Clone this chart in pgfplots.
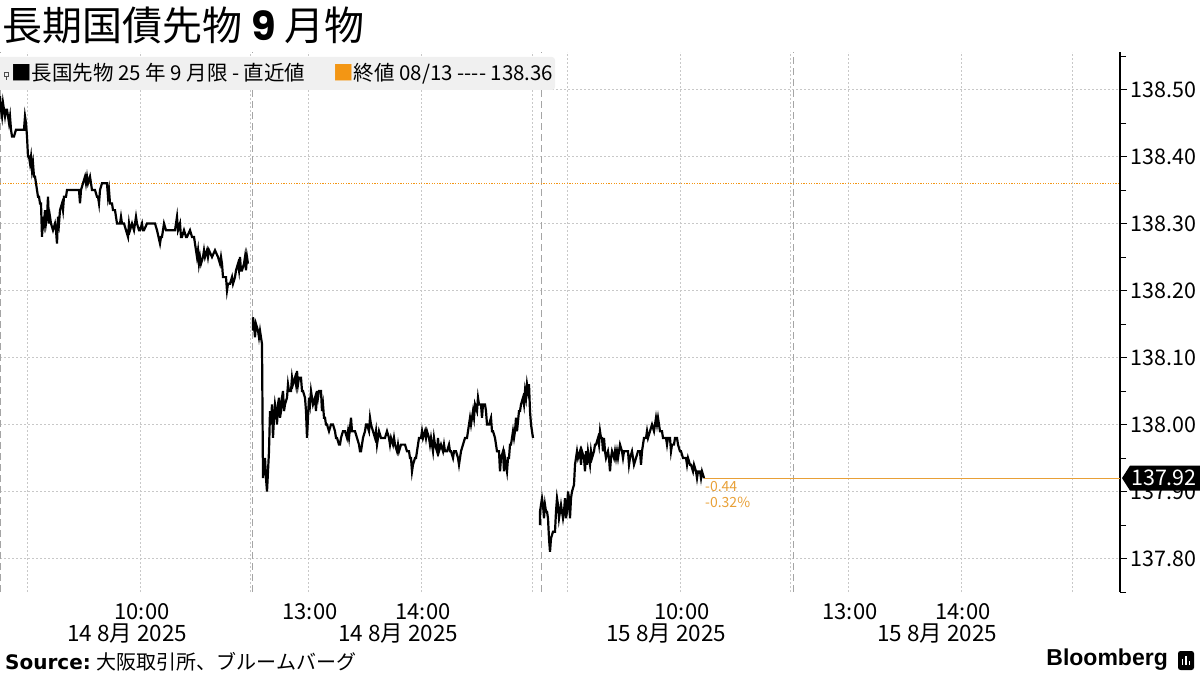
\documentclass[border=0pt]{standalone}
\usepackage{fontspec}
\setmainfont{Noto Sans CJK JP}
\newfontfamily\popfont{Poppins}
\newfontfamily\verd{DejaVu Sans}
\newfontfamily\bbgfont{Liberation Sans}
\usepackage{pgfplots}
\pgfplotsset{compat=1.18}
\definecolor{gridc}{RGB}{200,200,200}
\definecolor{breakc}{RGB}{165,165,165}
\definecolor{orangeA}{RGB}{243,150,20}
\definecolor{orangeL}{RGB}{232,160,55}
\definecolor{legbg}{RGB}{240,240,240}
\begin{document}
\begin{tikzpicture}
\begin{axis}[
  name=ax, anchor=south west, at={(0pt,0pt)},
  scale only axis, width=1120pt, height=540pt,
  xmin=0, xmax=1120, ymin=137.75, ymax=138.556,
  axis y line*=right, axis x line*=bottom,
  x axis line style={draw=none},
  y axis line style={line width=1.2pt, -},
  xtick={27,140,250,308,421,532,567,680,790,848,961,1072},
  xticklabels={,10:00,,13:00,14:00,,,10:00,,13:00,14:00,},
  xtick style={draw=none},
  xticklabel style={font=\fontsize{22}{24}\selectfont, yshift=-1pt, xshift=2pt},
  extra x ticks={0,252,541,793},
  extra x tick labels={,,,},
  extra x tick style={tick style={draw=none}, grid style={breakc, dash pattern=on 7pt off 4pt, line width=0.8pt}},
  ytick={137.8,137.9,138,138.1,138.2,138.3,138.4,138.5},
  minor ytick={137.75,137.85,137.95,138.05,138.15,138.25,138.35,138.45,138.55},
  yticklabel style={font=\fontsize{21.5}{23}\selectfont, xshift=0pt, /pgf/number format/.cd, fixed, fixed zerofill, precision=2, assume math mode=true},
  ytick style={black, line width=1pt},
  tick align=outside,
  major tick length=7pt, minor tick length=6pt,
  xmajorgrids, ymajorgrids,
  grid style={gridc, dash pattern=on 2pt off 2pt, line width=0.7pt},
]
% previous close
\addplot[orangeA, line width=1.4pt, dash pattern=on 1.2pt off 1.4pt] coordinates {(0,138.36) (1120,138.36)};
% last value line
\addplot[orangeL, line width=1.2pt] coordinates {(704,137.92) (1120,137.92)};
% day 1 morning
\addplot[black, line width=2.2pt] coordinates {
(0,138.49)(1,138.47)(2,138.46)(3,138.48)(4,138.47)(5,138.46)(6,138.47)(7,138.47)(8,138.46)(9,138.45)(10,138.46)(11,138.44)(12,138.43)(13,138.43)(14,138.43)(16,138.44)(20,138.44)(24,138.44)(25,138.46)(26,138.45)(27,138.43)(28,138.40)(29,138.40)(30,138.39)(31,138.40)(32,138.38)(33,138.39)(34,138.37)(35,138.37)(36,138.36)(37,138.35)(38,138.34)(39,138.34)(40,138.33)(41,138.33)(42,138.28)(43,138.31)(44,138.30)(45,138.32)(46,138.30)(47,138.31)(48,138.34)(49,138.30)(50,138.31)(51,138.30)(53,138.29)(55,138.30)(56,138.29)(57,138.27)(58,138.31)(59,138.30)(60,138.32)(62,138.33)(63,138.32)(64,138.34)(66,138.34)(67,138.35)(70,138.35)(73,138.35)(76,138.35)(79,138.35)(80,138.33)(81,138.35)(83,138.36)(85,138.37)(86,138.36)(87,138.37)(88,138.36)(90,138.37)(91,138.36)(92,138.35)(95,138.35)(97,138.34)(98,138.34)(99,138.33)(100,138.35)(102,138.36)(105,138.36)(107,138.36)(108,138.34)(109,138.35)(110,138.33)(112,138.33)(113,138.32)(115,138.32)(116,138.31)(117,138.30)(118,138.30)(120,138.30)(121,138.31)(122,138.30)(124,138.30)(126,138.29)(128,138.28)(129,138.30)(130,138.29)(132,138.30)(134,138.29)(136,138.31)(137,138.30)(139,138.29)(140,138.29)(142,138.30)(143,138.29)(144,138.29)(147,138.30)(150,138.30)(153,138.30)(155,138.30)(157,138.29)(160,138.27)(161,138.28)(162,138.28)(164,138.30)(166,138.29)(168,138.29)(170,138.29)(172,138.29)(175,138.29)(176,138.30)(177,138.31)(178,138.29)(180,138.30)(181,138.28)(182,138.28)(184,138.29)(186,138.28)(187,138.28)(190,138.29)(192,138.28)(194,138.28)(195,138.27)(196,138.26)(197,138.25)(198,138.26)(199,138.24)(200,138.25)(201,138.24)(203,138.25)(204,138.26)(205,138.25)(207,138.26)(208,138.25)(209,138.26)(212,138.25)(215,138.26)(218,138.25)(220,138.24)(221,138.25)(222,138.24)(223,138.22)(225,138.22)(226,138.22)(227,138.20)(228,138.21)(230,138.21)(232,138.22)(233,138.21)(235,138.22)(236,138.23)(238,138.24)(239,138.23)(240,138.25)(241,138.23)(242,138.23)(244,138.24)(245,138.25)(246,138.23)(247,138.25)(248,138.24)
};
% day 1 afternoon
\addplot[black, line width=2.2pt] coordinates {
(253,138.14)(253,138.16)(254,138.15)(255,138.13)(256,138.15)(258,138.14)(259,138.13)(260,138.14)(261,138.13)(262,138.12)(263,137.92)(264,137.94)(265,137.95)(266,137.92)(267,137.90)(268,137.93)(269,137.96)(270,138.02)(271,138.00)(272,138.03)(273,137.98)(274,138.01)(275,138.03)(276,138.02)(277,138.00)(278,138.03)(279,138.04)(280,138.01)(281,138.02)(282,138.04)(283,138.05)(284,138.02)(285,138.03)(287,138.04)(288,138.06)(289,138.05)(291,138.05)(292,138.07)(293,138.06)(295,138.07)(296,138.06)(297,138.08)(298,138.06)(299,138.07)(301,138.07)(302,138.05)(303,138.05)(305,138.04)(306,138.02)(307,137.98)(308,138.01)(309,138.04)(310,138.03)(311,138.05)(312,138.04)(313,138.03)(315,138.04)(316,138.02)(317,138.05)(318,138.04)(319,138.05)(321,138.05)(322,138.02)(323,138.03)(324,138.01)(325,138.01)(326,138.00)(327,138.00)(329,137.99)(331,138.00)(333,138.00)(335,137.99)(336,137.98)(337,137.98)(339,137.97)(340,137.97)(341,137.98)(343,137.99)(345,137.99)(347,137.98)(348,137.99)(349,137.98)(351,138.01)(352,137.99)(353,137.99)(355,137.99)(357,137.98)(359,137.97)(360,137.96)(361,137.96)(363,137.98)(365,137.99)(366,138.00)(367,138.00)(369,137.99)(370,138.01)(371,138.00)(373,137.99)(375,137.98)(376,137.99)(377,137.97)(378,137.98)(379,137.99)(381,137.98)(383,137.98)(385,137.98)(387,137.99)(389,137.98)(390,137.97)(391,137.98)(393,137.97)(394,137.98)(395,137.97)(397,137.96)(398,137.97)(399,137.96)(401,137.97)(403,137.97)(405,137.97)(407,137.96)(409,137.96)(410,137.95)(411,137.95)(412,137.93)(413,137.94)(415,137.95)(416,137.95)(418,137.97)(419,137.98)(421,137.98)(422,137.99)(423,137.98)(425,137.99)(426,137.98)(427,137.99)(429,137.98)(430,137.97)(431,137.98)(433,137.96)(434,137.98)(435,137.97)(437,137.96)(438,137.98)(439,137.96)(441,137.97)(443,137.96)(444,137.97)(445,137.96)(447,137.96)(449,137.97)(450,137.96)(451,137.96)(453,137.95)(454,137.96)(456,137.96)(458,137.95)(459,137.94)(460,137.95)(461,137.96)(463,137.97)(465,137.98)(467,137.98)(469,138.00)(470,138.01)(471,138.00)(473,138.02)(474,138.01)(475,138.03)(477,138.02)(478,138.04)(479,138.03)(481,138.03)(482,138.01)(483,138.03)(485,138.03)(486,138.02)(487,138.00)(489,138.00)(491,138.01)(492,137.99)(493,137.99)(495,137.98)(496,137.97)(497,137.96)(499,137.96)(500,137.93)(501,137.95)(503,137.96)(504,137.93)(505,137.95)(507,137.93)(508,137.95)(509,137.95)(510,137.97)(511,137.97)(513,137.99)(514,137.98)(515,137.99)(516,138.01)(517,137.99)(519,138.02)(520,138.02)(521,138.03)(523,138.04)(524,138.03)(525,138.05)(526,138.04)(527,138.06)(528,138.05)(529,138.06)(530,138.02)(531,138.00)(533,137.98)
};
% day 2
\addplot[black, line width=2.2pt] coordinates {
(540,137.85)(540,137.87)(541,137.88)(542,137.89)(543,137.88)(544,137.86)(545,137.88)(546,137.87)(547,137.87)(548,137.86)(549,137.83)(550,137.81)(551,137.83)(553,137.84)(555,137.84)(556,137.87)(557,137.89)(558,137.88)(559,137.86)(560,137.87)(561,137.88)(563,137.86)(564,137.87)(565,137.89)(566,137.86)(567,137.87)(568,137.90)(569,137.89)(570,137.86)(571,137.89)(572,137.90)(574,137.91)(575,137.94)(576,137.95)(577,137.96)(578,137.95)(580,137.96)(581,137.94)(582,137.96)(584,137.95)(585,137.93)(586,137.96)(587,137.94)(588,137.96)(590,137.94)(591,137.96)(592,137.95)(594,137.96)(595,137.97)(596,137.97)(598,137.98)(599,137.97)(600,137.99)(601,137.98)(602,137.98)(603,137.96)(604,137.98)(605,137.96)(606,137.95)(608,137.96)(609,137.95)(610,137.93)(611,137.95)(612,137.96)(614,137.95)(615,137.96)(616,137.95)(617,137.96)(618,137.95)(620,137.97)(622,137.96)(623,137.95)(624,137.96)(626,137.96)(628,137.96)(629,137.94)(630,137.95)(632,137.96)(634,137.94)(636,137.95)(638,137.96)(640,137.96)(641,137.94)(642,137.96)(643,137.97)(644,137.98)(646,137.98)(647,137.99)(648,137.98)(650,137.99)(652,138.00)(654,137.99)(655,138.00)(656,138.01)(657,138.00)(658,138.01)(659,138.00)(660,137.99)(662,137.99)(663,137.98)(664,137.98)(666,137.98)(667,137.97)(668,137.98)(670,137.98)(671,137.96)(672,137.97)(674,137.97)(675,137.98)(677,137.98)(678,137.97)(680,137.96)(681,137.96)(683,137.95)(684,137.95)(686,137.95)(687,137.94)(688,137.95)(690,137.94)(691,137.94)(693,137.93)(694,137.94)(696,137.93)(697,137.92)(698,137.93)(700,137.93)(701,137.92)(702,137.93)(704,137.92)
};
\coordinate (lastv) at (axis cs:1120,137.92);
\coordinate (endpt) at (axis cs:705,137.92);
\end{axis}
\coordinate (O) at ([yshift=-83pt]ax.south west);
% last value box
\fill[black] ([xshift=2pt]lastv) -- ++(8pt,12.5pt) -- ++(70pt,0pt) -- ++(0pt,-25pt) -- ++(-70pt,0pt) -- cycle;
\node[text=white, font=\fontsize{21.5}{23}\selectfont, inner sep=0] at ([xshift=44pt]lastv) {137.92};
% change annotation
\node[anchor=north west, align=left, text=orangeL, font=\fontsize{14}{16}\selectfont, inner sep=0] at ([yshift=-3pt]endpt) {-0.44\\-0.32\%};
% legend
\fill[legbg, rounded corners=3pt] ([shift={(-4pt,585pt)}]O) rectangle ([shift={(555pt,618pt)}]O);
\draw[black!70, line width=0.5pt] ([shift={(4.5pt,599pt)}]O) rectangle ([shift={(8.5pt,603pt)}]O);
\draw[black!70, line width=0.5pt] ([shift={(6.5pt,599pt)}]O) -- ([shift={(6.5pt,595pt)}]O);
\node[anchor=west, inner sep=0, font=\fontsize{20.5}{22}\selectfont] at ([shift={(11pt,601.5pt)}]O) {■長国先物 25 年 9 月限 - 直近値\hspace{28pt}\textcolor{orangeA}{■}終値 08/13 {-}{-}{-}{-} 138.36};
% title
\node[anchor=west, inner sep=0, font=\fontsize{40}{42}\selectfont] at ([shift={(2pt,650pt)}]O) {長期国債先物\hspace{9pt}{\popfont\bfseries 9}\hspace{9pt}月物};
% date labels
\node[font=\fontsize{22.5}{24}\selectfont, inner sep=0] at ([shift={(127pt,41pt)}]O) {14 8月 2025};
\node[font=\fontsize{22.5}{24}\selectfont, inner sep=0] at ([shift={(398pt,41pt)}]O) {14 8月 2025};
\node[font=\fontsize{22.5}{24}\selectfont, inner sep=0] at ([shift={(666pt,41pt)}]O) {15 8月 2025};
\node[font=\fontsize{22.5}{24}\selectfont, inner sep=0] at ([shift={(937pt,41pt)}]O) {15 8月 2025};
% source
\node[anchor=west, inner sep=0, font=\fontsize{20}{22}\selectfont] at ([shift={(5pt,13pt)}]O) {{\verd\bfseries Source:} 大阪取引所、ブルームバーグ};
% Bloomberg
\node[anchor=east, inner sep=0, font=\fontsize{23}{24}\selectfont] at ([shift={(1168pt,15pt)}]O) {\bbgfont\bfseries Bloomberg};
\fill[black, rounded corners=2.5pt] ([shift={(1178pt,5pt)}]O) rectangle ([shift={(1194pt,24pt)}]O);
\fill[white] ([shift={(1181.5pt,10pt)}]O) rectangle ([shift={(1183pt,16pt)}]O);
\fill[white] ([shift={(1185pt,10pt)}]O) rectangle ([shift={(1186.5pt,19pt)}]O);
\fill[white] ([shift={(1188.5pt,10pt)}]O) rectangle ([shift={(1190pt,14pt)}]O);
\pgfresetboundingbox
\useasboundingbox (O) rectangle ([shift={(1200pt,675pt)}]O);
\end{tikzpicture}
\end{document}
